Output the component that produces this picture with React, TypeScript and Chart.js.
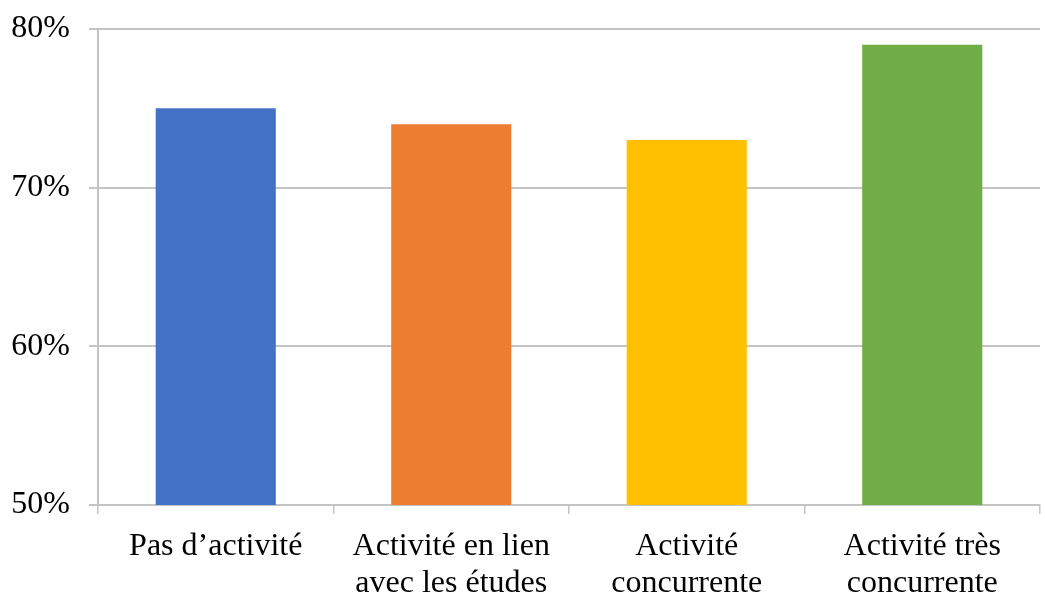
import React, { useEffect, useRef } from "react";
import { Chart, registerables } from "chart.js";

Chart.register(...registerables);

const categories: string[][] = [
  ["Pas d\u2019activité"],
  ["Activité en lien", "avec les études"],
  ["Activité", "concurrente"],
  ["Activité très", "concurrente"],
];
const values: number[] = [75, 74, 73, 79];
const barColors: string[] = ["#4472C4", "#ED7D31", "#FFC000", "#70AD47"];
const yTicks: number[] = [50, 60, 70, 80];

const FONT = "'Liberation Serif', 'Times New Roman', serif";

export default function App() {
  const ref = useRef<HTMLCanvasElement | null>(null);
  useEffect(() => {
    document.body.style.margin = "0";
    if (!ref.current) return;
    const chart = new Chart(ref.current, {
      type: "bar",
      data: {
        labels: categories,
        datasets: [
          {
            data: values,
            backgroundColor: barColors,
            borderWidth: 0,
            barPercentage: 0.51,
            categoryPercentage: 1,
          },
        ],
      },
      options: {
        animation: false,
        responsive: false,
        maintainAspectRatio: false,
        layout: { padding: { left: 12, right: 5, top: 29, bottom: 0 } },
        plugins: { legend: { display: false }, tooltip: { enabled: false } },
        scales: {
          x: {
            afterFit: (axis: any) => {
              axis.paddingLeft = 0;
              axis.paddingRight = 0;
              axis.height = 88;
            },
            grid: {
              display: true,
              drawOnChartArea: false,
              drawTicks: true,
              tickLength: 9,
              color: "#c4c4c4",
              lineWidth: 1.5,
            },
            border: { color: "#c4c4c4", width: 2 },
            ticks: {
              color: "#000",
              font: { family: FONT, size: 32, lineHeight: 1.15 },
              padding: 14,
              maxRotation: 0,
              autoSkip: false,
            },
          },
          y: {
            min: yTicks[0],
            max: yTicks[yTicks.length - 1],
            afterBuildTicks: (axis: any) => {
              axis.ticks = yTicks.map((v) => ({ value: v }));
            },
            afterFit: (axis: any) => {
              axis.paddingTop = 0;
              axis.paddingBottom = 0;
              axis.width = 86;
            },
            grid: {
              color: "#c4c4c4",
              lineWidth: 2,
              tickLength: 9,
            },
            border: { color: "#c4c4c4", width: 2 },
            ticks: {
              color: "#000",
              font: { family: FONT, size: 32, lineHeight: 1.15 },
              padding: 19,
              callback: (v: any) => v + "%",
            },
          },
        },
      },
    });
    return () => chart.destroy();
  }, []);
  return (
    <div style={{ width: 1045, height: 593 }}>
      <canvas ref={ref} width={1045} height={593} style={{ display: "block" }} />
    </div>
  );
}
